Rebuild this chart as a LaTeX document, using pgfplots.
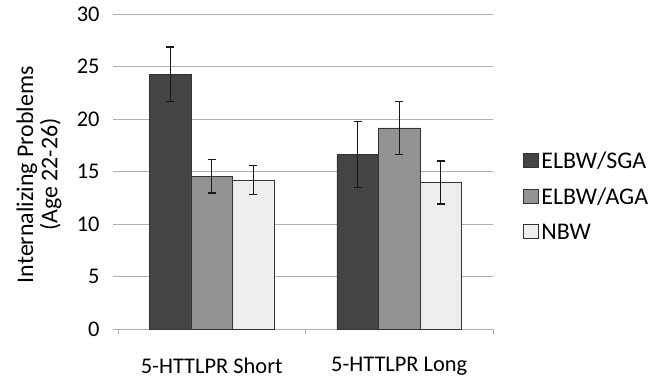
\documentclass[border=0pt]{standalone}
\usepackage{pgfplots}
\pgfplotsset{compat=1.18}
\usepackage{fontspec}
\setmainfont{Carlito}
\definecolor{sga}{HTML}{444444}
\definecolor{aga}{HTML}{939393}
\definecolor{nbw}{HTML}{EEEEEE}
\definecolor{gridc}{HTML}{B0B0B0}
\begin{document}
\begin{tikzpicture}[font=\fontsize{22.5}{26}\selectfont]
\useasboundingbox (-118bp,-52bp) rectangle (537bp,329bp);
\begin{axis}[
  at={(0,0)}, anchor=south west,
  scale only axis,
  width=375bp, height=315bp,
  ybar=0pt, bar width=41.5bp,
  xmin=-0.5, xmax=1.5,
  ymin=0, ymax=30,
  xtick={0,1},
  xticklabels={5-HTTLPR Short, 5-HTTLPR Long},
  minor xtick={-0.5,0.5,1.5},
  ytick={0,5,...,30},
  /pgf/number format/assume math mode=true,
  tick label style={font=\fontsize{22.5}{26}\selectfont},
  tick align=outside,
  major tick length=5bp, minor tick length=5bp,
  xtick style={draw=none},
  minor x tick style={draw=gridc, line width=0.8pt},
  ytick style={draw=gridc, line width=0.8pt},
  ymajorgrids, grid style={gridc, line width=0.8pt},
  axis x line*=bottom, axis y line*=left,
  x axis line style={draw=gridc, line width=0.8pt, -},
  y axis line style={draw=none},
  xticklabel style={yshift=-20bp},
  yticklabel style={xshift=-10bp},
  ylabel={Internalizing Problems\\(Age 22-26)},
  ylabel style={align=center, font=\fontsize{24}{24.5}\selectfont,
    at={(axis description cs:0,0.49)}, anchor=center, yshift=79bp},
  legend style={draw=none, fill=none, at={(1.08,0.42)}, anchor=west,
    row sep=14bp, font=\fontsize{24}{28}\selectfont, inner sep=0pt,
    nodes={inner xsep=2.5bp}},
  legend cell align=left,
  legend image code/.code={\draw[#1, draw=black!80] (0bp,-6bp) rectangle (15bp,8bp);},
  every axis plot/.append style={draw=black!80, line width=0.7pt,
    error bars/y dir=both, error bars/y explicit,
    error bars/error bar style={black!90, line width=1.2pt},
    error bars/error mark options={rotate=90, mark size=4.2bp, black!90, line width=1.2pt}},
]
\addplot[fill=sga] coordinates {(0,24.25) +- (0,2.6) (1,16.65) +- (0,3.15)};
\addplot[fill=aga] coordinates {(0,14.55) +- (0,1.6) (1,19.15) +- (0,2.5)};
\addplot[fill=nbw] coordinates {(0,14.2) +- (0,1.4) (1,13.95) +- (0,2.05)};
\legend{ELBW/SGA, ELBW/AGA, NBW}
\end{axis}
\end{tikzpicture}
\end{document}
